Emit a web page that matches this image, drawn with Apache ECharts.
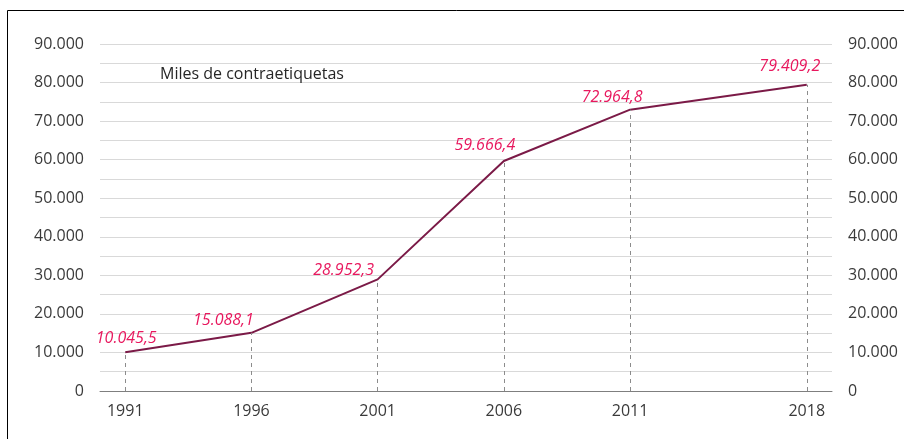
<!DOCTYPE html>
<html><head><meta charset="utf-8">
<script src="https://cdn.jsdelivr.net/npm/echarts@6/dist/echarts.min.js"></script>
<style>html,body{margin:0;padding:0;background:#fff}#c{width:904px;height:439px}</style>
</head><body><div id="c"></div>
<script>
const years = [1991, 1996, 2001, 2006, 2011, 2018];
const values = [10045.5, 15088.1, 28952.3, 59666.4, 72964.8, 79409.2];
const yTicks = [0, 10000, 20000, 30000, 40000, 50000, 60000, 70000, 80000, 90000];
const labelOffsets = [[1, 0], [-28, 2], [-34, 5], [-19, -2], [-18, 2], [-17, -4]];
const unitText = 'Miles de contraetiquetas';

const FONT = '"Open Sans", "Noto Sans", sans-serif';
const fmtNum = v => {
  const parts = v.toFixed(1).split('.');
  return parts[0].replace(/\B(?=(\d{3})+(?!\d))/g, '.') + ',' + parts[1];
};
const fmtTick = v => yTicks.includes(v) ? String(v).replace(/\B(?=(\d{3})+(?!\d))/g, '.') : '';

const chart = echarts.init(document.getElementById('c'));
const yAxisBase = {
  type: 'value', min: 0, max: 90000, interval: 5000,
  axisLine: {show: false}, axisTick: {show: false},
  axisLabel: {formatter: fmtTick, color: '#3a3a3a', fontSize: 16, fontFamily: FONT, margin: 16}
};
chart.setOption({
  animation: false,
  title: {text: unitText, left: 155, top: 61,
    textStyle: {fontSize: 16, fontWeight: 'normal', color: '#262626', fontFamily: FONT}},
  graphic: [{type: 'rect', shape: {x: 7.5, y: 10.5, width: 1000, height: 1000},
    style: {fill: 'none', stroke: '#000', lineWidth: 1}, silent: true}],
  grid: {left: 100, right: 72, top: 44, bottom: 48},
  xAxis: {
    type: 'value', min: 1990, max: 2019, interval: 1,
    axisLine: {show: true, lineStyle: {color: '#7f7f7f', width: 1}},
    axisTick: {show: false}, splitLine: {show: false},
    axisLabel: {formatter: v => years.includes(v) ? String(v) : '', color: '#3a3a3a',
      fontSize: 16, fontFamily: FONT, margin: 12, showMinLabel: true, showMaxLabel: true}
  },
  yAxis: [
    Object.assign({}, yAxisBase, {position: 'left',
      splitLine: {show: true, lineStyle: {color: '#d9d9d9', width: 1}}}),
    Object.assign({}, yAxisBase, {position: 'right', splitLine: {show: false}})
  ],
  series: [{
    type: 'line',
    data: years.map((y, i) => ({
      value: [y, values[i]],
      label: {offset: labelOffsets[i]}
    })),
    symbol: 'circle', symbolSize: 0.01, showSymbol: true,
    itemStyle: {color: '#7b1a47'},
    lineStyle: {color: '#7b1a47', width: 2},
    label: {show: true, position: 'top', distance: 6, formatter: p => fmtNum(p.value[1]),
      color: '#e8185e', fontSize: 16, fontStyle: 'italic', fontFamily: FONT},
    markLine: {
      symbol: 'none', silent: true, label: {show: false},
      lineStyle: {type: [4, 4], color: '#8c8c8c', width: 1},
      data: years.map((y, i) => [{coord: [y, 0]}, {coord: [y, values[i]]}])
    },
    z: 3
  }]
});
</script></body></html>
